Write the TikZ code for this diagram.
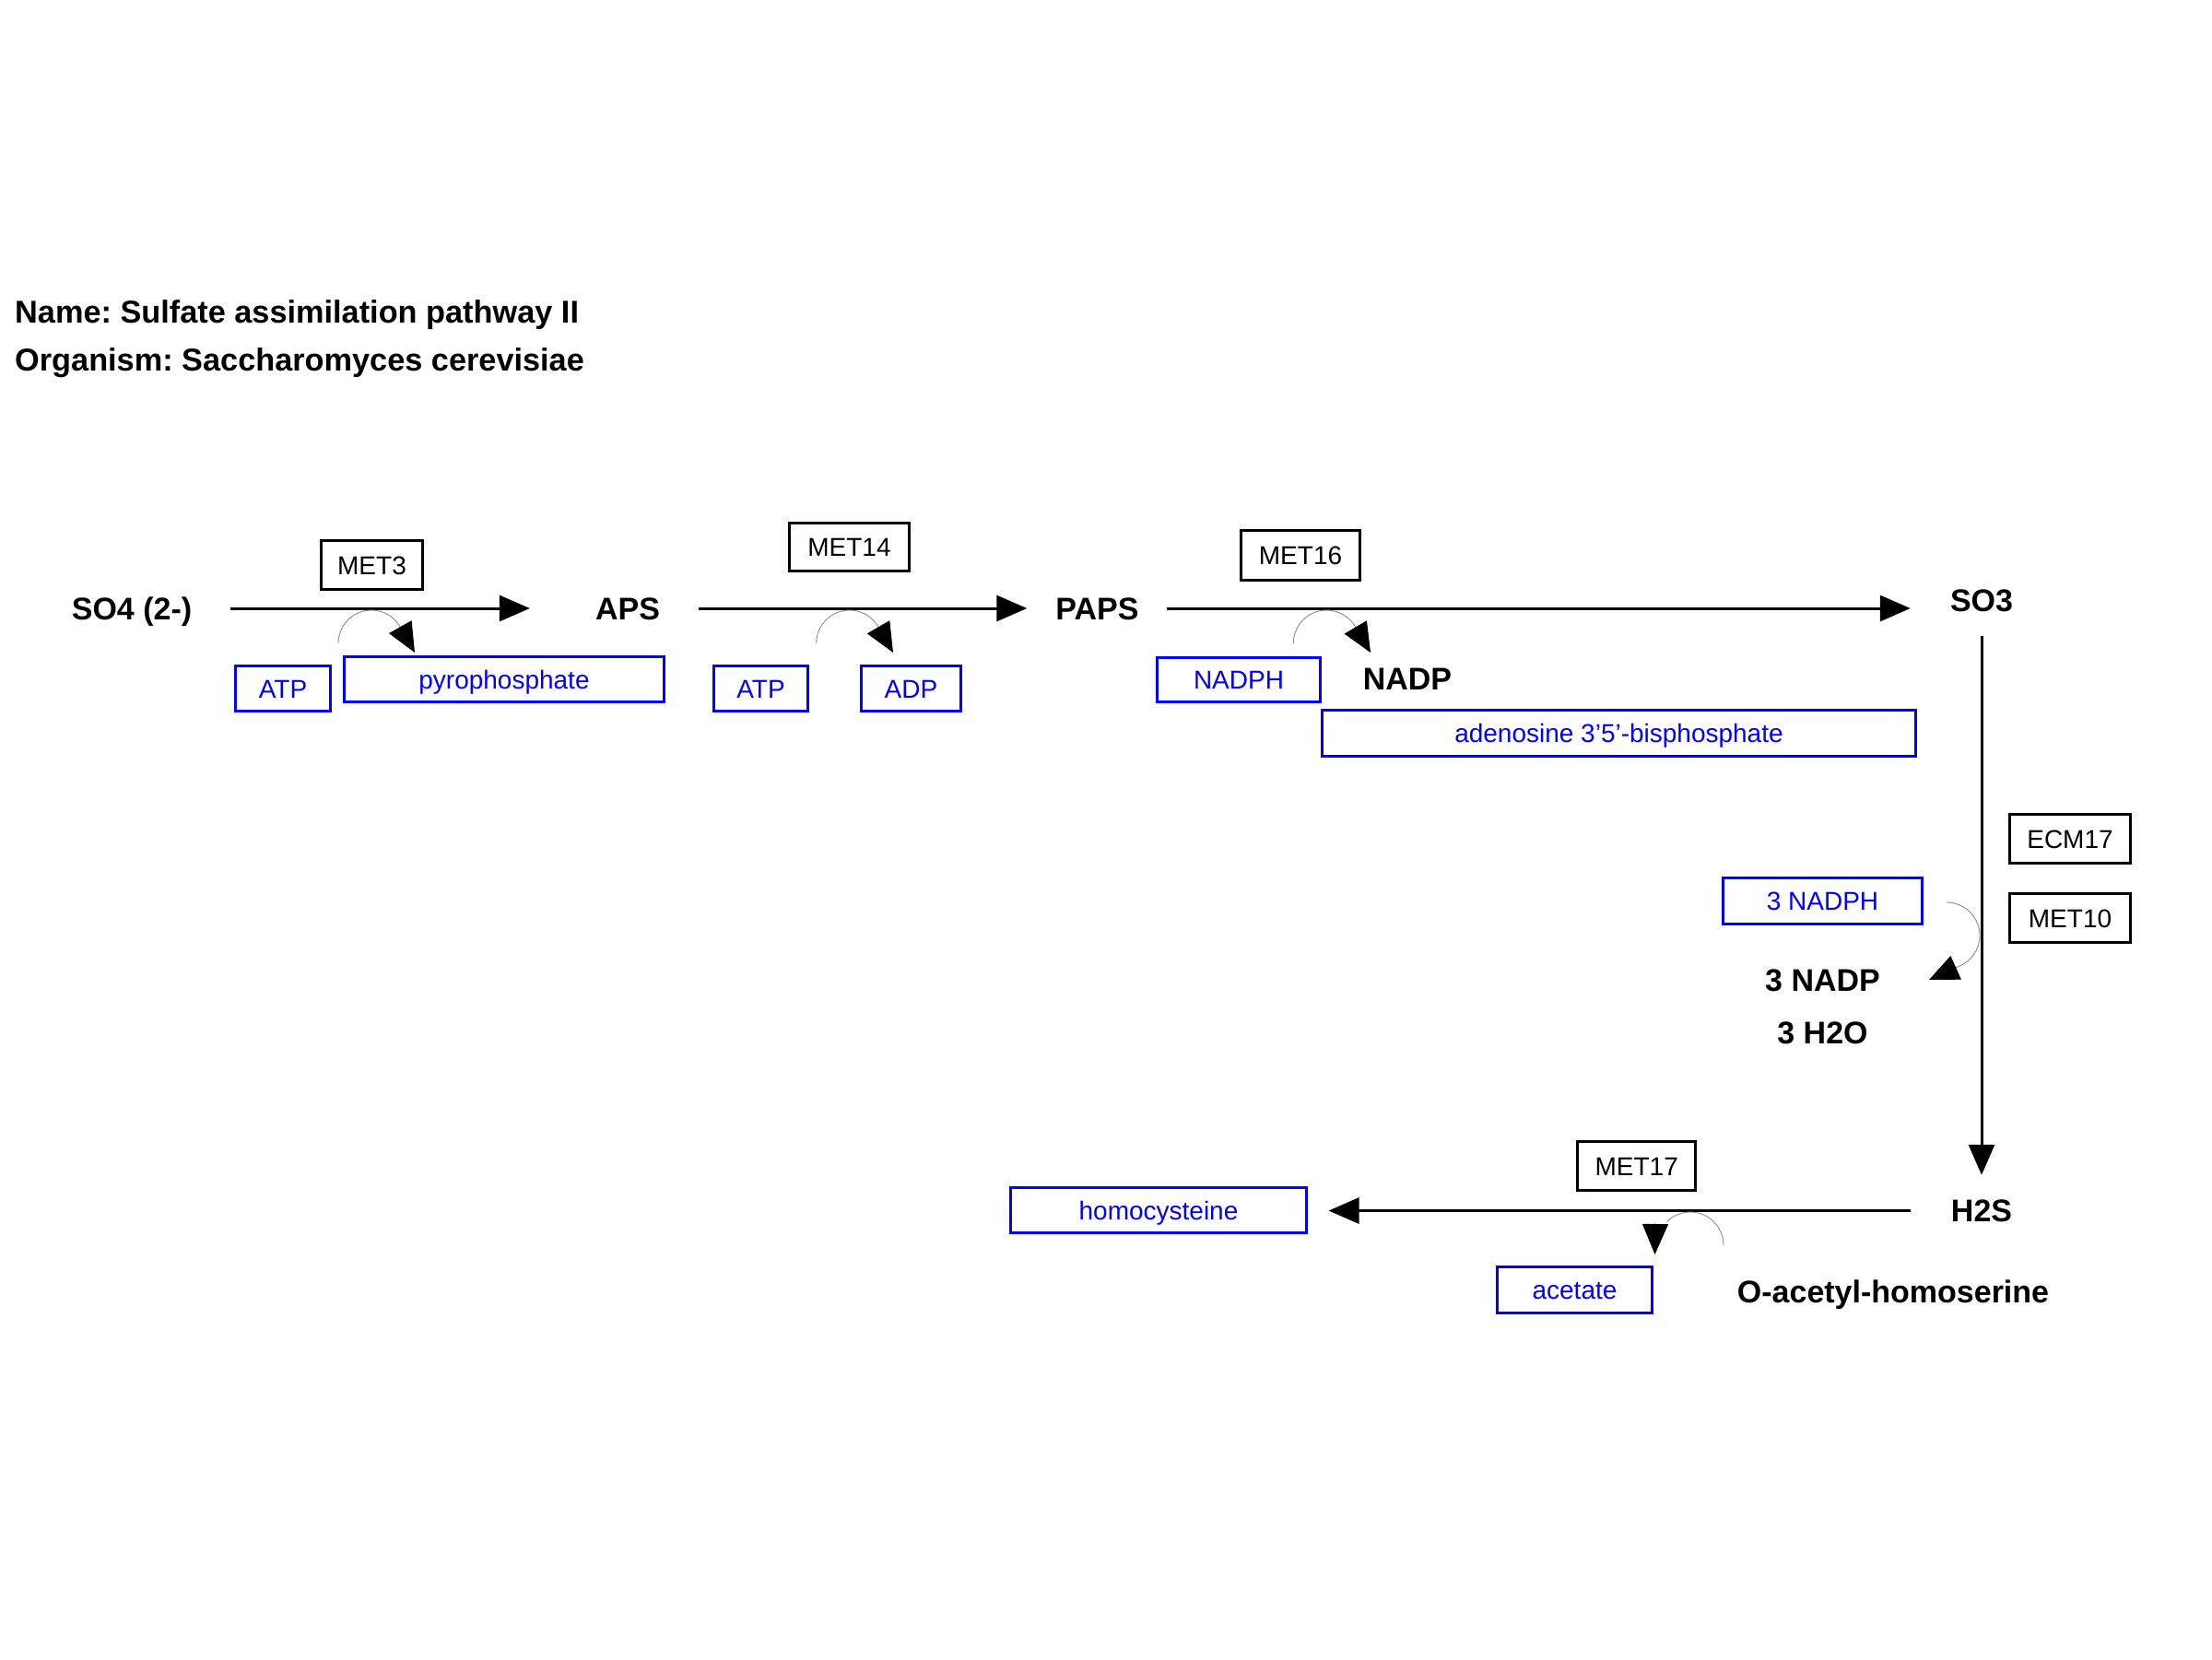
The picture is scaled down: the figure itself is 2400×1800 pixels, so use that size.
\documentclass[tikz,border=0pt]{standalone}
\usepackage{fontspec}
\setmainfont{Liberation Sans}
\usetikzlibrary{arrows.meta}
\frenchspacing
\begin{document}
\begin{tikzpicture}[x=1pt,y=1pt,
  lbl/.style={font=\fontsize{34}{40}\selectfont\bfseries, inner sep=0pt, text height=24.3pt, text depth=0pt},
  ttl/.style={font=\fontsize{34.3}{40}\selectfont\bfseries, inner sep=0pt, anchor=base west},
  gene/.style={draw=black, line width=3pt, font=\fontsize{28}{34}\selectfont, inner sep=0pt, text height=20pt, text depth=0pt},
  chem/.style={draw=blue, text=blue, line width=3pt, font=\fontsize{28}{34}\selectfont, inner sep=0pt, text height=20pt, text depth=0pt},
  rxn/.style={line width=3pt, -{Triangle[length=33pt,width=28pt]}},
  side/.style={draw=black!45, line width=0.9pt, -{Triangle[length=32pt,width=28pt,color=black,fill=black]}},
  sidearc/.style={draw=black!45, line width=0.9pt},
  tiponly/.style={draw=black!45, line width=0.9pt, -{Triangle[length=33pt,width=28pt,color=black,fill=black]}}
]
\path[use as bounding box, fill=white] (0,0) rectangle (2400,-1800);

% title
\node[ttl] (name) at (16,-350) {Name: Sulfate assimilation pathway II};
\node[ttl] (org) at (16,-402) {Organism: Saccharomyces cerevisiae};

% metabolites
\node[lbl] (so4) at (143,-660) {SO4 (2-)};
\node[lbl] (aps) at (681,-660) {APS};
\node[lbl] (paps) at (1190.5,-660) {PAPS};
\node[lbl] (so3) at (2150,-651) {SO3};
\node[lbl] (h2s) at (2150,-1313.5) {H2S};
\node[lbl] (nadp) at (1527,-736.5) {NADP};
\node[lbl] (nadp3) at (1977.5,-1063) {3 NADP};
\node[lbl] (h2o3) at (1977.5,-1120.5) {3 H2O};
\node[lbl] (oah) at (2054,-1401.5) {O-acetyl-homoserine};

% genes
\node[gene, minimum width=110pt, minimum height=53pt] (met3) at (403.5,-613) {MET3};
\node[gene, minimum width=130pt, minimum height=52pt] (met14) at (921.5,-593.5) {MET14};
\node[gene, minimum width=129pt, minimum height=54pt] (met16) at (1411,-602.5) {MET16};
\node[gene, minimum width=131pt, minimum height=53pt] (ecm17) at (2246,-910) {ECM17};
\node[gene, minimum width=131pt, minimum height=53pt] (met10) at (2246,-996) {MET10};
\node[gene, minimum width=128.5pt, minimum height=53pt] (met17) at (1775.7,-1265) {MET17};

% side compounds
\node[chem, minimum width=103pt, minimum height=49pt] (atp1) at (307,-747) {ATP};
\node[chem, minimum width=347pt, minimum height=49pt] (ppi) at (547,-737) {pyrophosphate};
\node[chem, minimum width=102pt, minimum height=49pt] (atp2) at (825.5,-747) {ATP};
\node[chem, minimum width=108pt, minimum height=49pt] (adp) at (988.5,-747) {ADP};
\node[chem, minimum width=177pt, minimum height=48pt] (nadph) at (1344,-737.5) {NADPH};
\node[chem, minimum width=644pt, minimum height=50pt] (pap) at (1756.5,-795.5) {adenosine 3'5'-bisphosphate};
\node[chem, minimum width=216pt, minimum height=50pt] (nadph3) at (1977.5,-977.5) {3 NADPH};
\node[chem, minimum width=321pt, minimum height=49pt] (hcy) at (1257,-1313) {homocysteine};
\node[chem, minimum width=168pt, minimum height=50pt] (ace) at (1708.5,-1399.5) {acetate};

% main reactions
\draw[rxn, shorten <=41.8pt, shorten >=71pt] (so4) -- (aps);
\draw[rxn, shorten <=42pt, shorten >=31pt] (aps) -- (paps);
\draw[rxn, shorten <=30pt, shorten >=43pt] (paps) -- (paps -| so3.west);
\draw[rxn, shorten <=27pt, shorten >=26.4pt] (so3.south) -- (h2s.north);
\draw[rxn, shorten <=44pt, shorten >=22.5pt] (h2s.west) -- (h2s.west -| hcy.east);

% side arcs
\coordinate (s1) at (367,-698);   \coordinate (t1) at (450,-708);
\coordinate (s2) at (885.7,-698); \coordinate (t2) at (969,-708);
\coordinate (s3) at (1403.3,-698);\coordinate (t3) at (1487,-708);
\coordinate (s4) at (2112,-979);  \coordinate (t4) at (2093,-1063);
\coordinate (s5) at (1870,-1351); \coordinate (b5) at (1796,-1326); \coordinate (t5) at (1795.5,-1361);
\draw[side] (s1) arc[start angle=180, end angle=30, radius=36] -- (t1);
\draw[side] (s2) arc[start angle=180, end angle=30, radius=36] -- (t2);
\draw[side] (s3) arc[start angle=180, end angle=30, radius=36] -- (t3);
\draw[side] (s4) arc[start angle=90, end angle=-70, radius=36] -- (t4);
\draw[sidearc] (s5) arc[start angle=0, end angle=135, radius=36];
\draw[tiponly] (b5) -- (t5);
\end{tikzpicture}
\end{document}
